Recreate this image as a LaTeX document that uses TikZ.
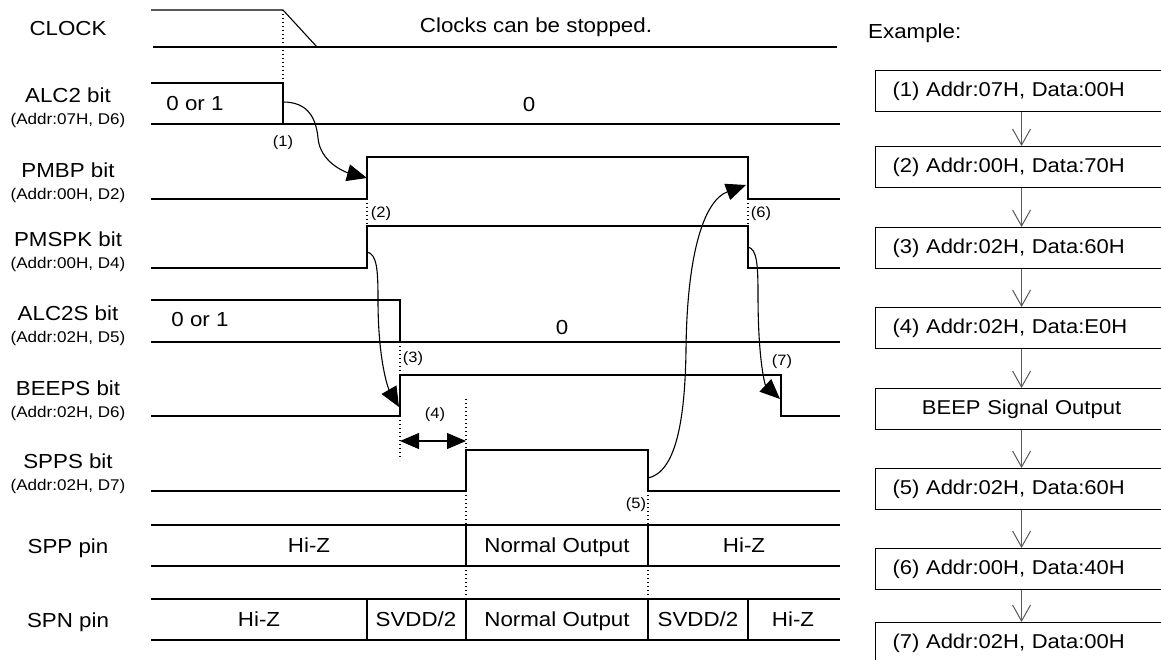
\documentclass[tikz,border=0pt]{standalone}
\usepackage{fontspec}
\setmainfont{Liberation Sans}[FakeStretch=1.1]
\usetikzlibrary{arrows.meta}
\begin{document}
\begin{tikzpicture}[x=1pt,y=-1pt,
  sig/.style={line width=1.1pt, line join=miter},
  dots/.style={line width=1.1pt, dash pattern=on 1.1pt off 2.9pt},
  big/.style={font=\fontsize{20.3}{24}\selectfont, inner sep=0pt},
  small/.style={font=\fontsize{15.5}{18}\selectfont, inner sep=0pt},
  evtag/.style={font=\fontsize{15}{18}\selectfont, inner sep=0pt},
  curvearrow/.style={line width=1.1pt, -{Triangle[length=20pt,width=17pt]}},
  dblarrow/.style={line width=1.1pt, {Triangle[length=19pt,width=16pt]}-{Triangle[length=19pt,width=16pt]}},
  stepbox/.style={draw, line width=1.1pt, minimum height=41pt, anchor=north west,
    text width=258pt, inner xsep=17pt, inner ysep=0pt, align=left,
    font=\fontsize{20}{24}\selectfont},
  flow/.style={draw=black!65, line width=1pt, -{Straight Barb[length=16pt,width=18pt]}}
]
\useasboundingbox (0,0) rectangle (1161,659);

% ---- left labels
\node[big] (lclk) at (68,29) {CLOCK};
\node[big] (lalc2) at (68,95) {ALC2 bit};
\node[small] (lalc2a) at (68,120) {(Addr:07H, D6)};
\node[big] (lpmbp) at (68,170) {PMBP bit};
\node[small] (lpmbpa) at (68,195) {(Addr:00H, D2)};
\node[big] (lpmspk) at (68,239) {PMSPK bit};
\node[small] (lpmspka) at (68,264) {(Addr:00H, D4)};
\node[big] (lalc2s) at (68,313) {ALC2S bit};
\node[small] (lalc2sa) at (68,338) {(Addr:02H, D5)};
\node[big] (lbeeps) at (68,388) {BEEPS bit};
\node[small] (lbeepsa) at (68,413) {(Addr:02H, D6)};
\node[big] (lspps) at (68,461) {SPPS bit};
\node[small] (lsppsa) at (68,486) {(Addr:02H, D7)};
\node[big, anchor=base] (lspp) at (68,553) {SPP pin};
\node[big, anchor=base] (lspn) at (68,627) {SPN pin};

% ---- signals
\draw[sig] (151,10) -- (283,10) -- (317,47);
\draw[sig] (153,47) -- (837,47);
\draw[sig] (151,83) -- (283,83) -- (283,124);
\draw[sig] (151,124) -- (840,124);
\draw[sig] (151,199) -- (367,199) -- (367,157) -- (748,157) -- (748,199) -- (840,199);
\draw[sig] (151,268) -- (367,268) -- (367,226) -- (748,226) -- (748,268) -- (840,268);
\draw[sig] (151,300) -- (400,300) -- (400,342);
\draw[sig] (151,342) -- (840,342);
\draw[sig] (151,416) -- (400,416) -- (400,375) -- (781,375) -- (781,416) -- (840,416);
\draw[sig] (151,491) -- (466,491) -- (466,450) -- (648,450) -- (648,491) -- (840,491);
% SPP pin
\draw[sig] (151,525) -- (840,525);
\draw[sig] (151,566) -- (840,566);
\draw[sig] (466,525) -- (466,566);
\draw[sig] (648,525) -- (648,566);
% SPN pin
\draw[sig] (151,599) -- (840,599);
\draw[sig] (151,640) -- (840,640);
\foreach \xx in {367,466,648,748} \draw[sig] (\xx,599) -- (\xx,640);

% ---- dotted guides
\draw[dots] (283,10) -- (283,83);
\draw[dots] (367,199) -- (367,226);
\draw[dots] (748,199) -- (748,226);
\draw[dots] (400,342) -- (400,375);
\draw[dots] (400,416) -- (400,460);
\draw[dots] (466,399) -- (466,450);
\draw[dots] (466,491) -- (466,525);
\draw[dots] (466,566) -- (466,599);
\draw[dots] (648,491) -- (648,525);
\draw[dots] (648,566) -- (648,599);

% ---- texts in waveforms
\node[big, anchor=base] (tclk) at (536,32) {Clocks can be stopped.};
\node[big] (t01a) at (195,104) {0 or 1};
\node[big] (t0a) at (529,105) {0};
\node[big] (t01b) at (200,320) {0 or 1};
\node[big] (t0b) at (562,328) {0};
\node[big, anchor=base] (sppz1) at (309,552) {Hi-Z};
\node[big, anchor=base] (sppno) at (557,552) {Normal Output};
\node[big, anchor=base] (sppz2) at (744,552) {Hi-Z};
\node[big, anchor=base] (spnz1) at (259,626) {Hi-Z};
\node[big, anchor=base] (spnsv1) at (416,626) {SVDD/2};
\node[big, anchor=base] (spnno) at (557,626) {Normal Output};
\node[big, anchor=base] (spnsv2) at (698,626) {SVDD/2};
\node[big, anchor=base] (spnz2) at (793,626) {Hi-Z};

% ---- event tags
\node[evtag] (e1) at (283,143) {(1)};
\node[evtag] (e2) at (381,214) {(2)};
\node[evtag] (e3) at (413,359) {(3)};
\node[evtag] (e4) at (435,415) {(4)};
\node[evtag] (e5) at (636,505) {(5)};
\node[evtag] (e6) at (761,214) {(6)};
\node[evtag] (e7) at (782,362) {(7)};

% ---- causal arrows
\coordinate (c1s) at (283,102);
\coordinate (c1e) at (367,178);
\draw[curvearrow] (c1s) .. controls (308,102) and (316,118) .. (318,138)
  .. controls (320,162) and (345,172) .. (c1e);
\coordinate (c2s) at (367,252);
\coordinate (c2e) at (399,407);
\draw[curvearrow] (c2s) .. controls (377,254) and (378,270) .. (378,300)
  .. controls (378,360) and (388,388) .. (c2e);
\coordinate (c5s) at (648,478);
\coordinate (c5e) at (746,185);
\draw[curvearrow] (c5s) .. controls (676,472) and (685,420) .. (686,350)
  .. controls (687,250) and (705,200) .. (c5e);
\coordinate (c6s) at (748,247);
\coordinate (c6e) at (780,399);
\draw[curvearrow] (c6s) .. controls (757,249) and (758,265) .. (758,295)
  .. controls (758,360) and (765,385) .. (c6e);
\coordinate (d4a) at (400,441);
\coordinate (d4b) at (466,441);
\draw[dblarrow] (d4a) -- (d4b);

% ---- example flow
\node[big, anchor=base west] (ex) at (868,38) {Example:};
\node[stepbox] (s1) at (875,70) {(1) Addr:07H, Data:00H};
\node[stepbox] (s2) at (875,146) {(2) Addr:00H, Data:70H};
\node[stepbox] (s3) at (875,227) {(3) Addr:02H, Data:60H};
\node[stepbox] (s4) at (875,307) {(4) Addr:02H, Data:E0H};
\node[stepbox, align=center] (s5) at (875,388) {BEEP Signal Output};
\node[stepbox] (s6) at (875,468) {(5) Addr:02H, Data:60H};
\node[stepbox] (s7) at (875,548) {(6) Addr:00H, Data:40H};
\node[stepbox] (s8) at (875,622) {(7) Addr:02H, Data:00H};
\draw[flow] (s1.south) -- (s2.north);
\draw[flow] (s2.south) -- (s3.north);
\draw[flow] (s3.south) -- (s4.north);
\draw[flow] (s4.south) -- (s5.north);
\draw[flow] (s5.south) -- (s6.north);
\draw[flow] (s6.south) -- (s7.north);
\draw[flow] (s7.south) -- (s8.north);
\end{tikzpicture}
\end{document}
